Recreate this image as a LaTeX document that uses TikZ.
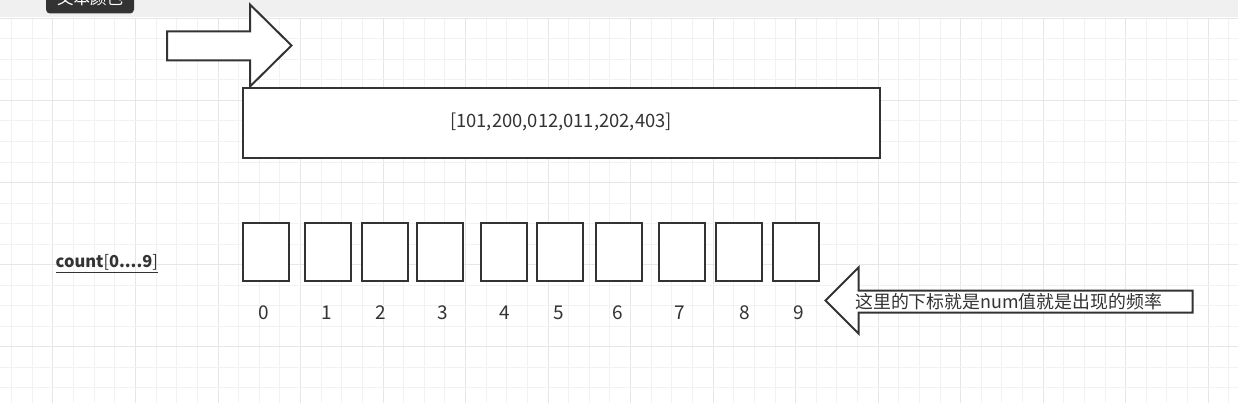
\documentclass[tikz,border=0pt]{standalone}
\usepackage{fontspec}
\setmainfont{Noto Sans CJK SC}
\newfontfamily\cjk{Noto Sans CJK SC}
\definecolor{ink}{HTML}{333333}
\definecolor{gridminor}{HTML}{F2F2F2}
\definecolor{gridmajor}{HTML}{E6E6E6}
\definecolor{band}{HTML}{F0F0F0}
\definecolor{tip}{HTML}{333333}
\tikzset{
  shapeline/.style={draw=ink, line width=2pt, fill=white, line join=miter},
  cell/.style={shapeline, minimum width=46pt, minimum height=58pt, inner sep=0pt, anchor=north west},
  idx/.style={text=ink, font=\fontsize{19}{22}\selectfont, inner sep=0pt, anchor=base},
}
\begin{document}
\begin{tikzpicture}[x=1pt,y=-1pt]
\useasboundingbox (0,0) rectangle (1238,403);
\clip (0,0) rectangle (1238,403);
% background
\fill[white] (0,0) rectangle (1238,403);
\foreach \k in {0,...,59} {
  \pgfmathsetmacro{\xx}{11.7+20.63*\k}
  \pgfmathtruncatemacro{\m}{mod(\k,4)}
  \ifnum\m=2
    \draw[gridmajor, line width=1pt] (\xx,18) -- (\xx,403);
  \else
    \draw[gridminor, line width=1pt] (\xx,18) -- (\xx,403);
  \fi
}
\foreach \k in {0,...,19} {
  \pgfmathsetmacro{\yy}{18.3+20.53*\k}
  \pgfmathtruncatemacro{\m}{mod(\k,4)}
  \ifnum\m=0
    \draw[gridmajor, line width=1pt] (0,\yy) -- (1238,\yy);
  \else
    \draw[gridminor, line width=1pt] (0,\yy) -- (1238,\yy);
  \fi
}
\fill[band] (0,0) rectangle (1238,17.5);
% tooltip
\fill[tip, rounded corners=4pt] (46,-10) rectangle (134,13.5);
\node[text=white, font=\cjk\fontsize{16.5}{18}\selectfont, inner sep=0pt] (tiptext) at (90,-1.5) {文本颜色};
% top right arrow
\draw[shapeline] (167,31.5) -- (250,31.5) -- (250,4.5) -- (291.5,45.5) -- (250,86.5) -- (250,60.5) -- (167,60.5) -- cycle;
% array box
\node[shapeline, minimum width=637pt, minimum height=70pt, inner sep=0pt, anchor=north west] (arr) at (241.5,87) {};
\node[text=ink, font=\fontsize{18.4}{22}\selectfont, inner sep=0pt] (arrtext) at (561,121.5) {[101,200,012,011,202,403]};
% count label
\node[text=ink, font=\fontsize{16.5}{19}\selectfont, inner sep=0pt, anchor=west] (countlbl) at (55.5,263.5) {\underline{\textbf{count}[\textbf{0....9}]}};
% cells
\foreach \i/\x/\lx in {0/241.5/264,1/304/326.7,2/360.5/381,3/415.5/442.7,4/479.5/504.3,5/535.5/558.3,6/594.5/617.3,7/657.5/680,8/714.5/745,9/772/799} {
  \node[cell] (c\i) at (\x,222) {};
  \node[idx] (l\i) at (\lx,319.6) {\i};
}
% left arrow
\draw[shapeline] (1192.5,290.5) -- (858.5,290.5) -- (858.5,267.5) -- (825.5,300.5) -- (858.5,333.5) -- (858.5,312.5) -- (1192.5,312.5) -- cycle;
\node[text=ink, font=\cjk\fontsize{17.9}{20}\selectfont, inner sep=0pt, anchor=west] (note) at (855,302) {这里的下标就是num值就是出现的频率};
\end{tikzpicture}
\end{document}
